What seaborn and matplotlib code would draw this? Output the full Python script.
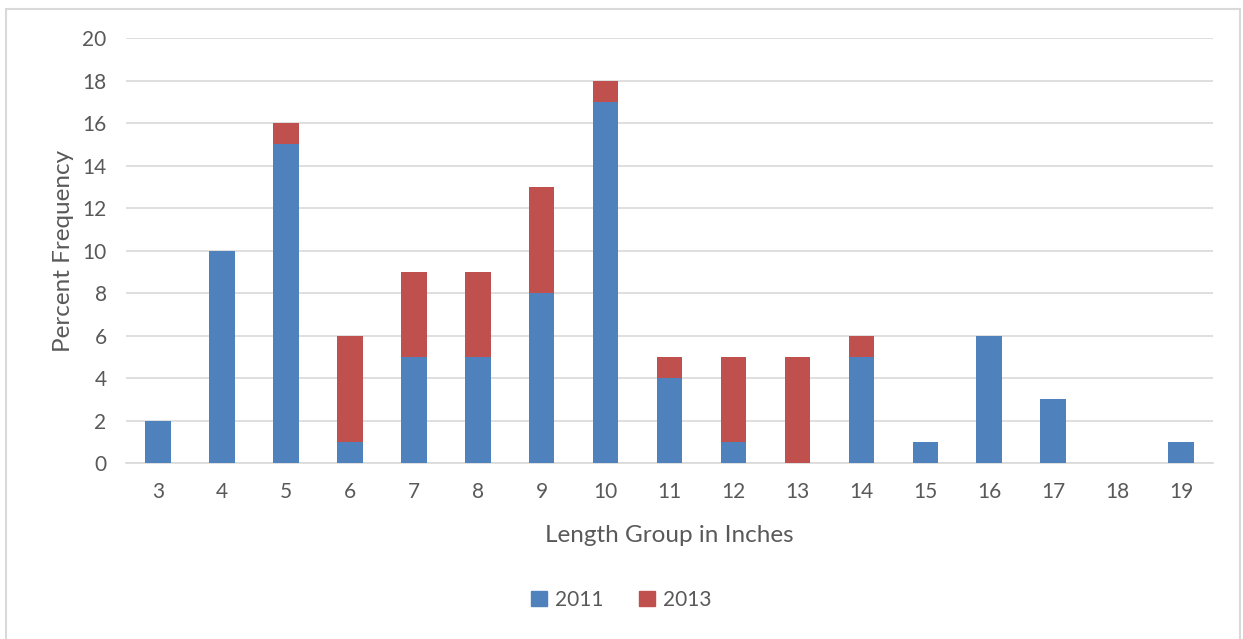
import matplotlib
matplotlib.use("Agg")
import matplotlib.pyplot as plt
from matplotlib.patches import Patch, Rectangle
import seaborn as sns
import pandas as pd
import numpy as np

lengths = [3, 4, 5, 6, 7, 8, 9, 10, 11, 12, 13, 14, 15, 16, 17, 18, 19]
pct_2011 = [2, 10, 15, 1, 5, 5, 8, 17, 4, 1, 0, 5, 1, 6, 3, 0, 1]
pct_2013 = [0, 0, 1, 5, 4, 4, 5, 1, 1, 4, 5, 1, 0, 0, 0, 0, 0]

BLUE = "#4F81BD"
RED = "#C0504D"
TEXT = "#595959"
GRID = "#D9D9D9"

sns.set_theme(style="white")
plt.rcParams["font.family"] = ["Lato", "DejaVu Sans"]

df = pd.DataFrame({
    "length": [str(v) for v in lengths],
    "y2011": pct_2011,
    "y2013": pct_2013,
})
df["total"] = df["y2011"] + df["y2013"]

fig = plt.figure(figsize=(12.43, 6.39), dpi=100)
ax = fig.add_axes([0.1014, 0.2754, 0.8745, 0.6651])

# stacked bars: total drawn in red, 2011 portion laid over it in blue
sns.barplot(data=df, x="length", y="total", color=RED, saturation=1,
            width=0.4, linewidth=0, ax=ax, zorder=3)
sns.barplot(data=df, x="length", y="y2011", color=BLUE, saturation=1,
            width=0.4, linewidth=0, ax=ax, zorder=4)

ax.set_ylim(0, 20)
ax.set_yticks(range(0, 21, 2))
ax.set_xlim(-0.5, len(lengths) - 0.5)
ax.yaxis.grid(True, color=GRID, linewidth=1.2, zorder=0)
ax.set_axisbelow(True)
for s in ["top", "right", "left"]:
    ax.spines[s].set_visible(False)
ax.spines["bottom"].set_color(GRID)
ax.spines["bottom"].set_linewidth(1.2)
ax.tick_params(axis="both", length=0, colors=TEXT, labelsize=15)
ax.tick_params(axis="y", pad=14)
ax.tick_params(axis="x", pad=14)

ax.set_xlabel("Length Group in Inches", color=TEXT, fontsize=17.5, labelpad=16)
ax.set_ylabel("Percent Frequency", color=TEXT, fontsize=17.5, labelpad=6)

handles = [Patch(color=BLUE, label="2011"), Patch(color=RED, label="2013")]
fig.legend(handles=handles, loc="center", bbox_to_anchor=(0.5, 0.061), ncol=2,
           frameon=False, fontsize=15, labelcolor=TEXT, handlelength=0.75,
           handleheight=0.75, columnspacing=1.7, handletextpad=0.4)

fig.patches.append(Rectangle((6 / 1243, -0.01), (1240 - 6) / 1243, 1 - 9 / 639 + 0.01,
                             transform=fig.transFigure, fill=False,
                             edgecolor="#D9D9D9", linewidth=1.5))

fig.savefig("out.png", dpi=100, facecolor="white")
